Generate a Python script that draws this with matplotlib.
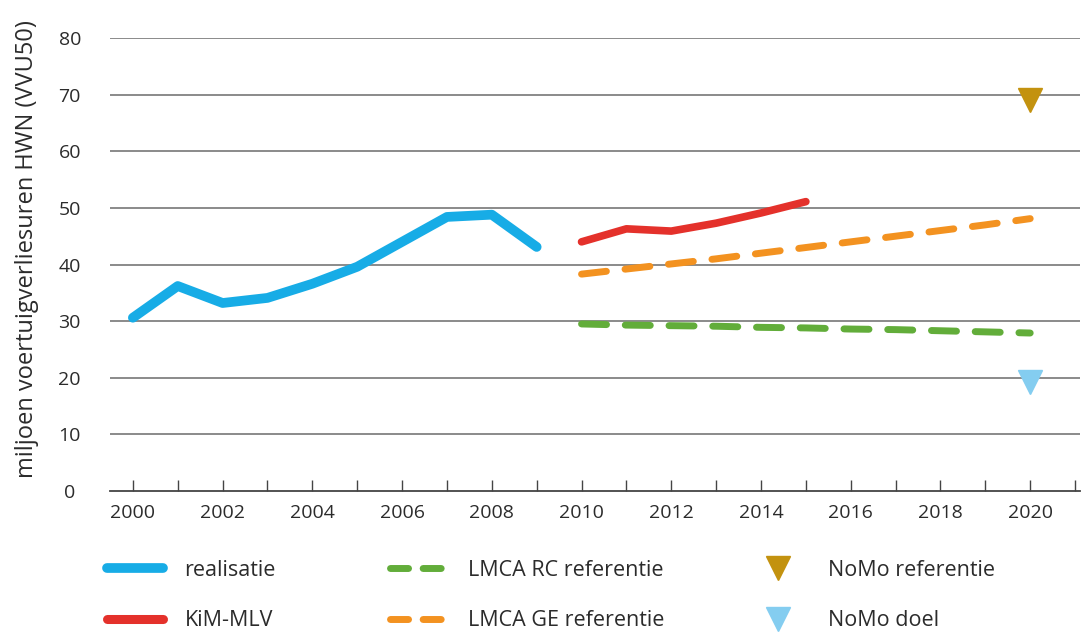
import matplotlib
matplotlib.use("Agg")
import matplotlib.pyplot as plt
from matplotlib.lines import Line2D

# jaartallen en reeksen (miljoen voertuigverliesuren)
jaren_real = [2000, 2001, 2002, 2003, 2004, 2005, 2006, 2007, 2008, 2009]
realisatie = [30.6, 36.2, 33.2, 34.1, 36.6, 39.6, 44.0, 48.4, 48.8, 43.1]

jaren_kim = [2010, 2011, 2012, 2013, 2014, 2015]
kim_mlv = [44.0, 46.3, 45.9, 47.3, 49.1, 51.1]

jaren_lmca = [2010, 2011, 2012, 2013, 2014, 2015, 2016, 2017, 2018, 2019, 2020]
lmca_rc = [29.5, 29.3, 29.2, 29.1, 28.9, 28.8, 28.6, 28.5, 28.3, 28.1, 27.9]
lmca_ge = [38.3, 39.2, 40.1, 41.0, 42.0, 43.0, 44.0, 45.0, 46.0, 47.0, 48.1]

nomo_jaar = [2020]
nomo_ref = [69.0]
nomo_doel = [19.3]

x_labels = [2000, 2002, 2004, 2006, 2008, 2010, 2012, 2014, 2016, 2018, 2020]
y_ticks = [0, 10, 20, 30, 40, 50, 60, 70, 80]

c_blue = "#17ace6"
c_red = "#e4312b"
c_green = "#62ad3a"
c_orange = "#f39220"
c_gold = "#c3920f"
c_lblue = "#84cdf0"
c_text = "#2b2b2b"

plt.rcParams['font.family'] = ['Open Sans', 'DejaVu Sans']

fig = plt.figure(figsize=(10.89, 6.39), dpi=100)
ax = fig.add_axes([110 / 1089, 148 / 639, 970 / 1089, 453 / 639])

ax.set_xlim(1999.49, 2021.11)
ax.set_ylim(0, 80)

for y in y_ticks[1:]:
    ax.axhline(y, color="#8a8a8a", lw=1.4, zorder=1)

ax.plot(jaren_real, realisatie, color=c_blue, lw=7, solid_capstyle="round",
        solid_joinstyle="round", zorder=3)
ax.plot(jaren_kim, kim_mlv, color=c_red, lw=5.5, solid_capstyle="round",
        solid_joinstyle="round", zorder=3)
ax.plot(jaren_lmca, lmca_rc, color=c_green, lw=5, dashes=(3.6, 2.7),
        dash_capstyle="round", zorder=3)
ax.plot(jaren_lmca, lmca_ge, color=c_orange, lw=5, dashes=(3.6, 2.7),
        dash_capstyle="round", zorder=3)
ax.plot(nomo_jaar, nomo_ref, marker="v", ms=17, color=c_gold, ls="none", zorder=4)
ax.plot(nomo_jaar, nomo_doel, marker="v", ms=17, color=c_lblue, ls="none", zorder=4)

for s in ["top", "right", "left"]:
    ax.spines[s].set_visible(False)
ax.spines["bottom"].set_color("#444444")
ax.spines["bottom"].set_linewidth(1.3)

ax.set_xticks(range(2000, 2022))
ax.set_xticklabels([str(j) if j in x_labels else "" for j in range(2000, 2022)])
ax.set_yticks(y_ticks)
ax.tick_params(axis="x", direction="in", length=8, width=1, color="#444444",
               labelsize=14, pad=9, labelcolor=c_text)
ax.tick_params(axis="y", length=0, labelsize=14, pad=29, labelcolor=c_text)
for lbl in ax.get_yticklabels():
    lbl.set_horizontalalignment("center")

ax.set_ylabel("miljoen voertuigverliesuren HWN (VVU50)", fontsize=17,
              color=c_text)
ax.yaxis.set_label_coords(-0.073, 0.534)

dash_leg = (2.6, 2.1)
kolommen = [
    ([Line2D([], [], color=c_blue, lw=7, solid_capstyle="round"),
      Line2D([], [], color=c_red, lw=6.5, solid_capstyle="round")],
     ["realisatie", "KiM-MLV"], 107),
    ([Line2D([], [], color=c_green, lw=5, dashes=dash_leg, dash_capstyle="round"),
      Line2D([], [], color=c_orange, lw=5, dashes=dash_leg, dash_capstyle="round")],
     ["LMCA RC referentie", "LMCA GE referentie"], 390),
    ([Line2D([], [], marker="v", ms=17, color=c_gold, ls="none"),
      Line2D([], [], marker="v", ms=17, color=c_lblue, ls="none")],
     ["NoMo referentie", "NoMo doel"], 750),
]
for hs, ls, x0 in kolommen:
    fig.legend(hs, ls, loc="center left", bbox_to_anchor=(x0 / 1089, 0.068),
               frameon=False, fontsize=15.5, handlelength=2.6, handletextpad=1.0,
               labelspacing=1.35, borderpad=0, borderaxespad=0,
               labelcolor=c_text)

fig.savefig("out.png", dpi=100)
